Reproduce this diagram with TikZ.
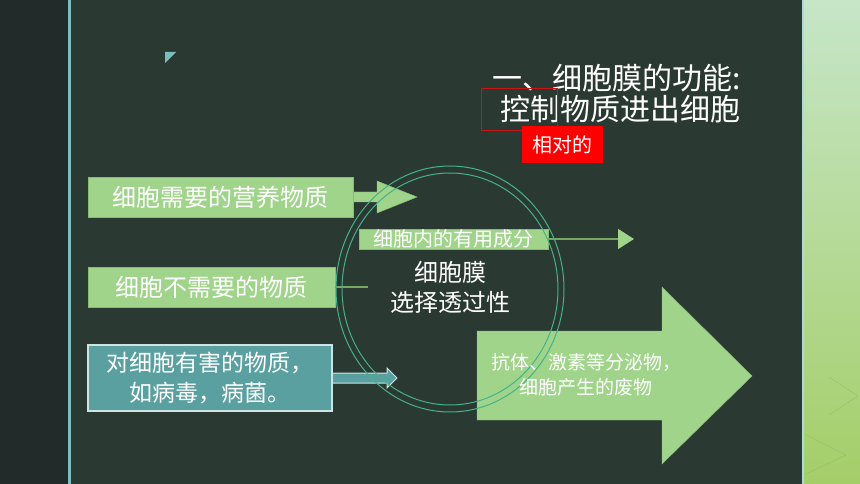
\documentclass[tikz,border=0pt]{standalone}
\usepackage{fontspec}
\setmainfont{Noto Sans CJK SC}
\usepackage{xcolor}
\usepackage{tikz}
\usetikzlibrary{arrows.meta}

\definecolor{panel}{RGB}{43,57,51}
\definecolor{leftdark}{RGB}{34,43,41}
\definecolor{tealline}{RGB}{122,190,190}
\definecolor{greentop}{RGB}{198,230,200}
\definecolor{greenmid}{RGB}{172,216,142}
\definecolor{greenbot}{RGB}{164,206,104}
\definecolor{boxgreen}{RGB}{160,212,138}
\definecolor{boxedge}{RGB}{136,188,116}
\definecolor{linegreen}{RGB}{118,168,98}
\definecolor{tealbox}{RGB}{90,160,160}
\definecolor{tealedge}{RGB}{205,228,228}
\definecolor{ring}{RGB}{68,178,138}
\definecolor{redline}{RGB}{200,20,20}
\definecolor{redfill}{RGB}{255,0,0}

\tikzset{
greenbox/.style={fill=boxgreen, draw=boxedge, text=white, inner sep=0, font=\fontsize{24}{28}\selectfont},
tealnode/.style={fill=tealbox, draw=tealedge, line width=1.2, text=white, inner sep=0, align=center, font=\fontsize{23}{30}\selectfont},
}

\begin{document}
\begin{tikzpicture}[x=1pt,y=-1pt]
\useasboundingbox (0,0) rectangle (860,484);
% background
\fill[leftdark] (0,0) rectangle (68,484);
\fill[panel] (68,0) rectangle (803,484);
\shade[top color=greentop, middle color=greenmid, bottom color=greenbot] (803,0) rectangle (860,484);
\draw[greenmid!70!black, opacity=0.35] (829,377)--(858,396)--(829,415);
\draw[greenmid!70!black, opacity=0.35] (806,435)--(846,455)--(806,474);
\draw[tealline, line width=2.5] (69.5,0)--(69.5,484);
\draw[tealline!60!white, line width=1.5] (803,0)--(803,484);
\fill[tealline] (165,52)--(176,52)--(165,63)--cycle;

% title
\node[anchor=east, inner sep=0, text=white, font=\fontsize{30}{32}\selectfont] (title1) at (741,78) {一、细胞膜的功能:};
\node[anchor=east, inner sep=0, text=white, font=\fontsize{30}{32}\selectfont] (title2) at (741,109) {控制物质进出细胞};
\draw[redline, line width=1] (481,89) rectangle (557,131);
\node[fill=redfill, text=white, inner sep=0, minimum width=81, minimum height=37, font=\fontsize{20}{22}\selectfont] (relative) at (562.5,144.5) {相对的};

% block arrows
\filldraw[boxgreen, draw=boxedge] (353,192)--(377,192)--(377,181)--(417,197)--(377,213)--(377,202)--(353,202);
\filldraw[tealbox, draw=tealedge, line width=1] (332,373)--(387,373)--(387,368)--(397,378)--(387,388)--(387,383)--(332,383);
\filldraw[boxgreen, draw=boxedge] (477,331)--(662,331)--(662,287)--(752,376)--(662,464)--(662,420)--(477,420)--cycle;

% boxes
\node[greenbox, minimum width=265, minimum height=40] (need) at (220.5,197) {细胞需要的营养物质};
\node[greenbox, minimum width=247, minimum height=40] (noneed) at (211.5,287) {细胞不需要的物质};
\node[tealnode, minimum width=244, minimum height=66] (harm) at (210,378) {对细胞有害的物质，\\如病毒，病菌。};
\node[greenbox, minimum width=189, minimum height=20, font=\fontsize{20}{22}\selectfont] (useful) at (453.5,239) {细胞内的有用成分};

\coordinate (noneedend) at (368,287);
\coordinate (usefulend) at (634,239);
\draw[linegreen, line width=1.2] (noneed.east) -- (noneedend);
\draw[linegreen, line width=1.5, -{Triangle[length=16pt,width=20pt,fill=boxgreen,color=boxgreen]}] (useful.east) -- (usefulend);

% membrane
\draw[ring, line width=1] (450,289) ellipse [x radius=114, y radius=123];
\draw[ring, line width=1] (450,289) ellipse [x radius=108, y radius=116];
\node[text=white, align=center, font=\fontsize{24}{30}\selectfont] (membrane) at (450,287) {细胞膜\\选择透过性};
\node[text=white, align=center, font=\fontsize{19}{25}\selectfont] (secrete) at (586,375) {抗体、激素等分泌物，\\细胞产生的废物};
\end{tikzpicture}
\end{document}
